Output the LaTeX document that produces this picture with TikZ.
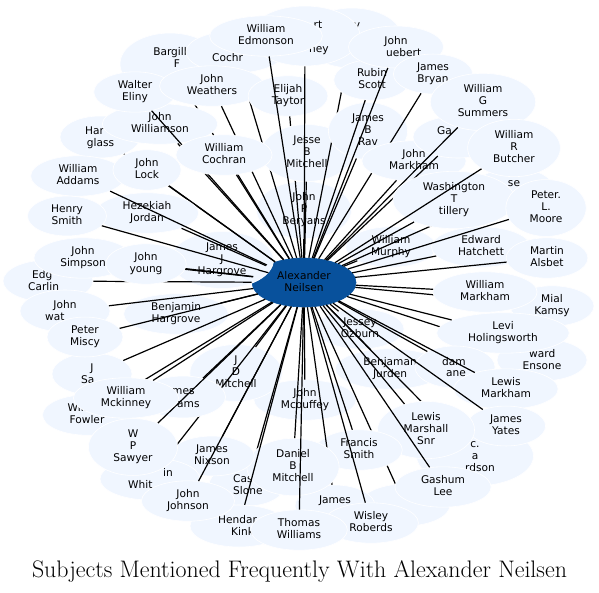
\documentclass[tikz,border=0pt]{standalone}
\usepackage{fontspec}
\newfontfamily\lblfont{DejaVu Sans}
\usetikzlibrary{shapes.geometric}
\definecolor{nodebg}{HTML}{F0F6FF}
\definecolor{centerbg}{HTML}{08519C}
\newcommand\lstrut{\rule[-2.5pt]{0pt}{12pt}}
\begin{document}
\begin{tikzpicture}[x=1pt,y=-1pt,
  pn/.style={ellipse, fill=nodebg, draw=white, line width=0.6pt, inner xsep=12pt, inner ysep=3pt,
    align=center, text=black, font=\lblfont\fontsize{10.6}{12}\selectfont,
    execute at begin node=\lstrut, execute at end node=\lstrut},
  fr/.style={inner sep=0pt, text=black, font=\lblfont\fontsize{10.6}{12}\selectfont,
    execute at begin node=\lstrut},
  lnk/.style={line width=1.2pt, black}]
\fill[white] (0,0) rectangle (599,592);
\useasboundingbox (0,0) rectangle (599,592);

\node[pn, fill=centerbg, draw=centerbg, inner xsep=2pt, inner ysep=1pt, minimum width=104pt, minimum height=49pt] (cn) at (304,282.5) {Alexander\\Neilsen};

% inner ring
\node[pn] (beryans) at (304,210) {John\\P\\Beryans}; \draw[lnk] (cn) -- (beryans);
\node[pn] (ozburn) at (360,329) {Jessey\\Ozburn}; \draw[lnk] (cn) -- (ozburn);
\node[pn] (jurden) at (390,369) {Benjaman\\Jurden}; \draw[lnk] (cn) -- (jurden);
\node[pn] (murphy) at (391,247) {William\\Murphy}; \draw[lnk] (cn) -- (murphy);
\node[pn] (mcouffey) at (305,400) {John\\Mcouffey}; \draw[lnk] (cn) -- (mcouffey);
\node[pn] (jdmitchell) at (236,373) {J\\D\\Mitchell}; \draw[lnk] (cn) -- (jdmitchell);
\node[pn] (jjhargrove) at (222,260) {James\\J\\Hargrove}; \draw[lnk] (cn) -- (jjhargrove);
\node[pn] (bhargrove) at (176,314) {Benjamin\\Hargrove}; \draw[lnk] (cn) -- (bhargrove);

% outer
\node[pn] (fowler) at (87,415) {William\\Fowler}; \draw[lnk] (cn) -- (fowler);
\node[pn, minimum width=80pt, minimum height=42pt] (har) at (100,137) {};
\node[fr, anchor=west] (harA) at (85,131) {Har}; \node[fr] (harB) at (100.5,143) {glass};
\draw[lnk] (cn) -- (har);
\node[pn, minimum width=100pt, minimum height=62pt] (bargill) at (170,64) {};
\node[fr] (bargillA) at (170,52) {Bargill}; \node[fr] (bargillB) at (177,64) {F};
\draw[lnk] (cn) -- (bargill);
\node[pn] (williamson) at (160,124) {John\\Williamson}; \draw[lnk] (cn) -- (williamson);
\node[pn] (eliny) at (135,92) {Walter\\Eliny}; \draw[lnk] (cn) -- (eliny);
\node[pn, minimum width=98pt, minimum height=42pt] (cochr) at (235,52) {};
\node[fr, anchor=west] (cochrA) at (212,58) {Cochr};
\draw[lnk] (cn) -- (cochr);
\node[pn] (weathers) at (212,86) {John\\Weathers}; \draw[lnk] (cn) -- (weathers);
\node[pn] (taytor) at (288,96) {Elijah\\Taytor}; \draw[lnk] (cn) -- (taytor);
\node[pn] (jesse) at (307,153) {Jesse\\B\\Mitchell}; \draw[lnk] (cn) -- (jesse);
\node[pn, minimum width=100pt, minimum height=60pt] (vn) at (352,38) {};
\node[fr] (vnA) at (357,25) {v}; \node[fr] (vnB) at (356,51) {n};
\draw[lnk] (cn) -- (vn);
\node[pn, minimum width=110pt, minimum height=60pt] (rtney) at (305,36) {};
\node[fr] (rtneyA) at (318,24.5) {rt}; \node[fr] (rtneyB) at (319,49) {ney};
\draw[lnk] (cn) -- (rtney);
\node[pn] (edmonson) at (266,36) {William\\Edmonson}; \draw[lnk] (cn) -- (edmonson);
\node[pn] (jbrav) at (368,131) {James\\B\\Rav}; \draw[lnk] (cn) -- (jbrav);
\node[pn] (rubin) at (372,80) {Rubin\\Scott}; \draw[lnk] (cn) -- (rubin);
\node[pn, minimum width=95pt, minimum height=42pt] (huebert) at (396,47) {};
\node[fr] (huebertA) at (396,41) {John}; \node[fr, anchor=west] (huebertB) at (386,53) {uebert};
\draw[lnk] (cn) -- (huebert);
\node[pn] (bryan) at (433,74) {James\\Bryan}; \draw[lnk] (cn) -- (bryan);
\node[pn] (jmarkham) at (414,161) {John\\Markham}; \draw[lnk] (cn) -- (jmarkham);
\node[pn, minimum width=90pt, minimum height=42pt] (ga) at (458,137) {};
\node[fr, anchor=west] (gaA) at (437,131) {Ga};
\draw[lnk] (cn) -- (ga);
\node[pn] (summers) at (483,102) {William\\G\\Summers}; \draw[lnk] (cn) -- (summers);
\node[pn, minimum width=80pt, minimum height=42pt] (se) at (514,189) {};
\node[fr] (seA) at (514,183) {se};
\draw[lnk] (cn) -- (se);
\node[pn] (washington) at (454,200) {Washington\\T\\tillery}; \draw[lnk] (cn) -- (washington);
\node[pn] (butcher) at (514,148) {William\\R\\Butcher}; \draw[lnk] (cn) -- (butcher);
\node[pn] (hatchett) at (481,247) {Edward\\Hatchett}; \draw[lnk] (cn) -- (hatchett);
\node[pn] (pmoore) at (546,208) {Peter.\\L.\\Moore}; \draw[lnk] (cn) -- (pmoore);
\node[pn] (alsbet) at (547,258) {Martin\\Alsbet}; \draw[lnk] (cn) -- (alsbet);
\node[pn] (kamsy) at (552,306) {Mial\\Kamsy}; \draw[lnk] (cn) -- (kamsy);
\node[pn] (wmarkham) at (485,292) {William\\Markham}; \draw[lnk] (cn) -- (wmarkham);
\node[pn, minimum width=90pt, minimum height=42pt] (ensone) at (542,360) {};
\node[fr, anchor=west] (ensoneA) at (529,354) {ward}; \node[fr] (ensoneB) at (542,366) {Ensone};
\draw[lnk] (cn) -- (ensone);
\node[pn] (levi) at (503,333) {Levi\\Holingsworth}; \draw[lnk] (cn) -- (levi);
\node[pn, minimum width=80pt, minimum height=42pt] (dam) at (455,367) {};
\node[fr, anchor=west] (damA) at (442,362) {dam}; \node[fr, anchor=west] (damB) at (446,373) {ane};
\draw[lnk] (cn) -- (dam);
\node[pn] (lmarkham) at (506,389) {Lewis\\Markham}; \draw[lnk] (cn) -- (lmarkham);
\node[pn, minimum width=117pt, minimum height=60pt] (rdson) at (475,456) {};
\node[fr] (rdsonA) at (475,444) {c.}; \node[fr] (rdsonB) at (475,456) {a}; \node[fr, anchor=west] (rdsonC) at (465,468) {rdson};
\draw[lnk] (cn) -- (rdson);
\node[pn] (yates) at (506,426) {James\\Yates}; \draw[lnk] (cn) -- (yates);
\node[pn] (marshall) at (426,430) {Lewis\\Marshall\\Snr}; \draw[lnk] (cn) -- (marshall);
\node[pn, minimum width=90pt, minimum height=42pt] (ohn) at (405,505) {}; \draw[lnk] (cn) -- (ohn);
\node[pn] (gashum) at (443,487) {Gashum\\Lee}; \draw[lnk] (cn) -- (gashum);
\node[pn] (francis) at (359,450) {Francis\\Smith}; \draw[lnk] (cn) -- (francis);
\node[pn, minimum width=80pt, minimum height=42pt] (jameslow) at (335,506) {};
\node[fr] (jameslowA) at (335,500) {James};
\draw[lnk] (cn) -- (jameslow);
\node[pn] (wisley) at (371,523) {Wisley\\Roberds}; \draw[lnk] (cn) -- (wisley);
\node[pn, minimum width=76pt, minimum height=42pt] (cas) at (247,485) {};
\node[fr, anchor=west] (casA) at (233,479) {Cas}; \node[fr, anchor=west] (casB) at (233,490.5) {Slone};
\draw[lnk] (cn) -- (cas);
\node[pn] (dbmitchell) at (293,467) {Daniel\\B\\Mitchell}; \draw[lnk] (cn) -- (dbmitchell);
\node[pn, minimum width=98pt, minimum height=42pt] (hendar) at (239,526) {};
\node[fr, anchor=west] (hendarA) at (218,520) {Hendar}; \node[fr, anchor=west] (hendarB) at (231,532) {Kink};
\draw[lnk] (cn) -- (hendar);
\node[pn] (thomas) at (299,530) {Thomas\\Williams}; \draw[lnk] (cn) -- (thomas);
\node[pn] (nixson) at (212,456) {James\\Nixson}; \draw[lnk] (cn) -- (nixson);
\node[pn, minimum width=100pt, minimum height=42pt] (whit) at (150,479) {};
\node[fr, anchor=west] (whitA) at (163,473) {in}; \node[fr, anchor=west] (whitB) at (128,485) {Whit};
\draw[lnk] (cn) -- (whit);
\node[pn] (jjohnson) at (188,501) {John\\Johnson}; \draw[lnk] (cn) -- (jjohnson);
\node[pn, minimum width=85pt, minimum height=42pt] (mesams) at (183,397) {};
\node[fr, anchor=west] (mesamsA) at (172,391) {mes}; \node[fr, anchor=west] (mesamsB) at (177,404) {ams};
\draw[lnk] (cn) -- (mesams);
\node[pn] (sawyer) at (133,447) {W\\P\\Sawyer}; \draw[lnk] (cn) -- (sawyer);
\node[pn, minimum width=80pt, minimum height=42pt] (jsa) at (92,374) {};
\node[fr] (jsaA) at (92,368) {J}; \node[fr, anchor=west] (jsaB) at (81,380) {Sa};
\draw[lnk] (cn) -- (jsa);
\node[pn] (mckinney) at (126,398) {William\\Mckinney}; \draw[lnk] (cn) -- (mckinney);
\node[pn] (hezekiah) at (147,213) {Hezekiah\\Jordan}; \draw[lnk] (cn) -- (hezekiah);
\node[pn] (addams) at (78,176) {William\\Addams}; \draw[lnk] (cn) -- (addams);
\node[pn] (hsmith) at (67,216) {Henry\\Smith}; \draw[lnk] (cn) -- (hsmith);
\node[pn] (lock) at (147,170) {John\\Lock}; \draw[lnk] (cn) -- (lock);
\node[pn, minimum width=90pt, minimum height=42pt] (edg) at (48,281) {};
\node[fr, anchor=west] (edgA) at (32,275) {Edg}; \node[fr, anchor=west] (edgB) at (28,287) {Carlin};
\draw[lnk] (cn) -- (edg);
\node[pn] (simpson) at (83,258) {John\\Simpson}; \draw[lnk] (cn) -- (simpson);
\node[pn, minimum width=90pt, minimum height=42pt] (johnwat) at (65,311) {};
\node[fr] (johnwatA) at (65,305) {John}; \node[fr, anchor=west] (johnwatB) at (45,317) {wat};
\draw[lnk] (cn) -- (johnwat);
\node[pn] (miscy) at (85,337) {Peter\\Miscy}; \draw[lnk] (cn) -- (miscy);
\node[pn] (wcochran) at (224,155) {William\\Cochran}; \draw[lnk] (cn) -- (wcochran);
\node[pn] (young) at (146,264) {John\\young}; \draw[lnk] (cn) -- (young);

\node[font=\fontsize{23.9}{28}\selectfont, anchor=base, inner sep=0pt] (title) at (299.5,577) {Subjects Mentioned Frequently With Alexander Neilsen};
\end{tikzpicture}
\end{document}
